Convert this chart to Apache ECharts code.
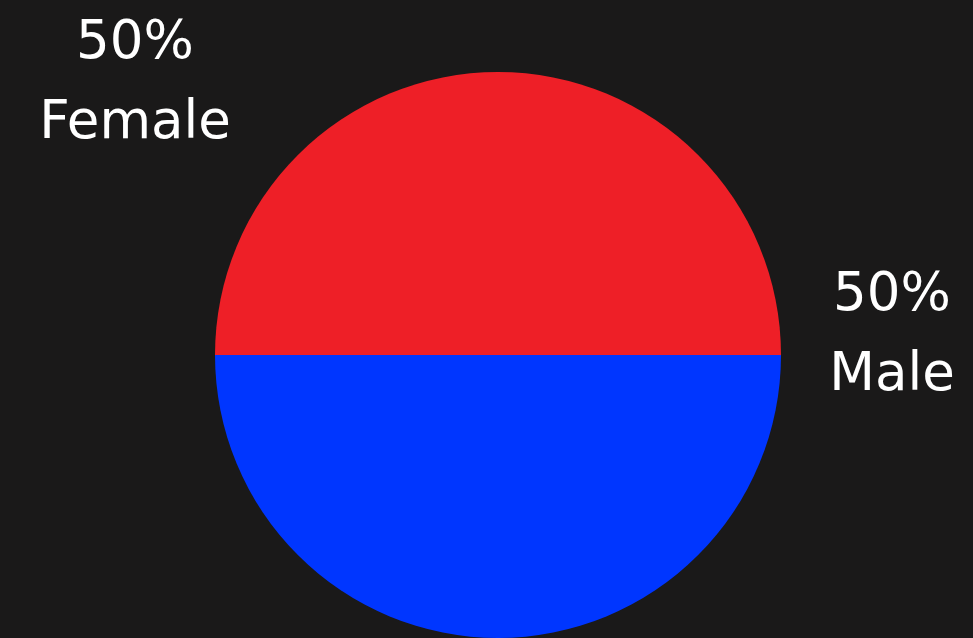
<!DOCTYPE html>
<html><head><meta charset="utf-8">
<script src="https://cdn.jsdelivr.net/npm/echarts@6/dist/echarts.min.js"></script>
<style>html,body{margin:0;padding:0;background:#1a1919;}#c{width:973px;height:638px;}</style>
</head><body><div id="c"></div>
<script>
const categories = ['Female', 'Male'];
const values = [50, 50];
const colors = ['#EE1F27', '#0036FF'];

const chart = echarts.init(document.getElementById('c'));
const labelPos = [{x: 135, y: 84}, {x: 892, y: 336}];
chart.setOption({
  backgroundColor: '#1a1919',
  animation: false,
  series: [{
    type: 'pie',
    center: [498, 355],
    radius: 283,
    startAngle: 180,
    clockwise: true,
    data: categories.map((c, i) => ({name: c, value: values[i], itemStyle: {color: colors[i]}})),
    label: {
      show: true,
      formatter: '{d}%\n{b}',
      color: '#ffffff',
      fontFamily: 'DejaVu Sans',
      fontWeight: 'normal',
      fontSize: 53,
      lineHeight: 80,
      align: 'center'
    },
    labelLine: {show: false},
    labelLayout: function (p) {
      const pos = labelPos[p.dataIndex];
      return {x: pos.x, y: pos.y, align: 'center', verticalAlign: 'middle'};
    },
    emphasis: {disabled: true}
  }]
});
</script></body></html>
